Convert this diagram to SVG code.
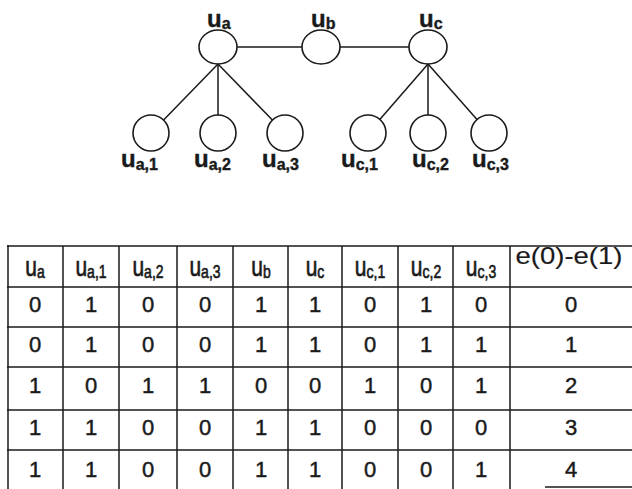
<svg xmlns="http://www.w3.org/2000/svg" width="632" height="489" viewBox="0 0 632 489">
<style>
.n{fill:none;stroke:#1a1a1a;stroke-width:1.6}
.e{stroke:#1a1a1a;stroke-width:1.5;fill:none}
.lb{font-family:"Liberation Sans",Arial,sans-serif;font-weight:bold;font-size:24px;fill:#1a1a1a;stroke:#1a1a1a;stroke-width:0.4}
.sb{font-size:16px}
.g{stroke:#1a1a1a;stroke-width:1.5}
.h{font-family:"Liberation Sans",Arial,sans-serif;font-size:21px;fill:#1a1a1a;stroke:#1a1a1a;stroke-width:0.5;text-anchor:middle}
.hs{font-size:14px}
.d{font-family:"Liberation Sans",Arial,sans-serif;font-size:22px;fill:#1a1a1a;stroke:#1a1a1a;stroke-width:0.45;text-anchor:middle}
</style>
<rect width="632" height="489" fill="#fff"/>
<g id="connectors">
<line class="e" x1="237" y1="47" x2="302" y2="47"/>
<line class="e" x1="340" y1="47" x2="409" y2="47"/>
<line class="e" x1="218" y1="64" x2="163.6" y2="120"/>
<line class="e" x1="218" y1="64" x2="218" y2="115"/>
<line class="e" x1="218" y1="64" x2="272.4" y2="120"/>
<line class="e" x1="428" y1="64" x2="379.8" y2="119.4"/>
<line class="e" x1="428" y1="64" x2="428" y2="115"/>
<line class="e" x1="428" y1="64" x2="477" y2="119.5"/>
</g>
<g id="ua"><ellipse class="n" cx="218" cy="47" rx="19" ry="17"/><text class="lb" x="207" y="27">u<tspan class="sb" dy="2">a</tspan></text></g>
<g id="ub"><ellipse class="n" cx="321" cy="47" rx="19" ry="17"/><text class="lb" x="311" y="27">u<tspan class="sb" dy="2">b</tspan></text></g>
<g id="uc"><ellipse class="n" cx="428" cy="47" rx="19" ry="17"/><text class="lb" x="419" y="27">u<tspan class="sb" dy="2">c</tspan></text></g>
<g id="ua1"><ellipse class="n" cx="151" cy="133" rx="18" ry="18"/><text class="lb" x="121" y="167">u<tspan class="sb" dy="3">a,1</tspan></text></g>
<g id="ua2"><ellipse class="n" cx="218" cy="133" rx="18" ry="18"/><text class="lb" x="194" y="167">u<tspan class="sb" dy="3">a,2</tspan></text></g>
<g id="ua3"><ellipse class="n" cx="285" cy="133" rx="18" ry="18"/><text class="lb" x="262" y="167">u<tspan class="sb" dy="3">a,3</tspan></text></g>
<g id="uc1"><ellipse class="n" cx="368" cy="133" rx="18" ry="18"/><text class="lb" x="341" y="167">u<tspan class="sb" dy="3">c,1</tspan></text></g>
<g id="uc2"><ellipse class="n" cx="428" cy="133" rx="18" ry="18"/><text class="lb" x="412" y="167">u<tspan class="sb" dy="3">c,2</tspan></text></g>
<g id="uc3"><ellipse class="n" cx="489" cy="133" rx="18" ry="18"/><text class="lb" x="472" y="167">u<tspan class="sb" dy="3">c,3</tspan></text></g>
<g id="table">
<line class="g" x1="7" y1="246" x2="632" y2="246" stroke-width="2.2"/>
<line class="g" x1="8" y1="245" x2="8" y2="489" stroke-width="2.6"/>
<line class="g" x1="7" y1="287" x2="632" y2="287"/>
<line class="g" x1="7" y1="327" x2="632" y2="327"/>
<line class="g" x1="7" y1="367" x2="632" y2="367"/>
<line class="g" x1="7" y1="410" x2="632" y2="410"/>
<line class="g" x1="7" y1="450" x2="632" y2="450"/>
<line class="g" x1="545" y1="487" x2="632" y2="487" stroke-width="1.2"/>
<line class="g" x1="63" y1="246" x2="63" y2="489"/>
<line class="g" x1="119" y1="246" x2="119" y2="489"/>
<line class="g" x1="177" y1="246" x2="177" y2="489"/>
<line class="g" x1="233" y1="246" x2="233" y2="489"/>
<line class="g" x1="288" y1="246" x2="288" y2="489"/>
<line class="g" x1="342" y1="246" x2="342" y2="489"/>
<line class="g" x1="398" y1="246" x2="398" y2="489"/>
<line class="g" x1="453" y1="246" x2="453" y2="489"/>
<line class="g" x1="510" y1="246" x2="510" y2="489"/>
<text class="h" transform="translate(35,276) scale(1,1.3)">u<tspan class="hs" dy="1.5">a</tspan></text>
<text class="h" transform="translate(91,276) scale(1,1.3)">u<tspan class="hs" dy="1.5">a,1</tspan></text>
<text class="h" transform="translate(148,276) scale(1,1.3)">u<tspan class="hs" dy="1.5">a,2</tspan></text>
<text class="h" transform="translate(205,276) scale(1,1.3)">u<tspan class="hs" dy="1.5">a,3</tspan></text>
<text class="h" transform="translate(261,276) scale(1,1.3)">u<tspan class="hs" dy="1.5">b</tspan></text>
<text class="h" transform="translate(315,276) scale(1,1.3)">u<tspan class="hs" dy="1.5">c</tspan></text>
<text class="h" transform="translate(370,276) scale(1,1.3)">u<tspan class="hs" dy="1.5">c,1</tspan></text>
<text class="h" transform="translate(426,276) scale(1,1.3)">u<tspan class="hs" dy="1.5">c,2</tspan></text>
<text class="h" transform="translate(481,276) scale(1,1.3)">u<tspan class="hs" dy="1.5">c,3</tspan></text>
<text class="d" x="569" y="264" style="font-size:24px;stroke-width:0.15" textLength="107" lengthAdjust="spacingAndGlyphs">e(0)-e(1)</text>
<g class="d">
<text x="35" y="312">0</text><text x="91" y="312">1</text><text x="148" y="312">0</text><text x="205" y="312">0</text><text x="261" y="312">1</text><text x="315" y="312">1</text><text x="370" y="312">0</text><text x="426" y="312">1</text><text x="481" y="312">0</text><text x="571" y="312">0</text>
<text x="35" y="352">0</text><text x="91" y="352">1</text><text x="148" y="352">0</text><text x="205" y="352">0</text><text x="261" y="352">1</text><text x="315" y="352">1</text><text x="370" y="352">0</text><text x="426" y="352">1</text><text x="481" y="352">1</text><text x="571" y="352">1</text>
<text x="35" y="393">1</text><text x="91" y="393">0</text><text x="148" y="393">1</text><text x="205" y="393">1</text><text x="261" y="393">0</text><text x="315" y="393">0</text><text x="370" y="393">1</text><text x="426" y="393">0</text><text x="481" y="393">1</text><text x="571" y="393">2</text>
<text x="35" y="435">1</text><text x="91" y="435">1</text><text x="148" y="435">0</text><text x="205" y="435">0</text><text x="261" y="435">1</text><text x="315" y="435">1</text><text x="370" y="435">0</text><text x="426" y="435">0</text><text x="481" y="435">0</text><text x="571" y="435">3</text>
<text x="35" y="477">1</text><text x="91" y="477">1</text><text x="148" y="477">0</text><text x="205" y="477">0</text><text x="261" y="477">1</text><text x="315" y="477">1</text><text x="370" y="477">0</text><text x="426" y="477">0</text><text x="481" y="477">1</text><text x="571" y="477">4</text>
</g>
</g>
</svg>
